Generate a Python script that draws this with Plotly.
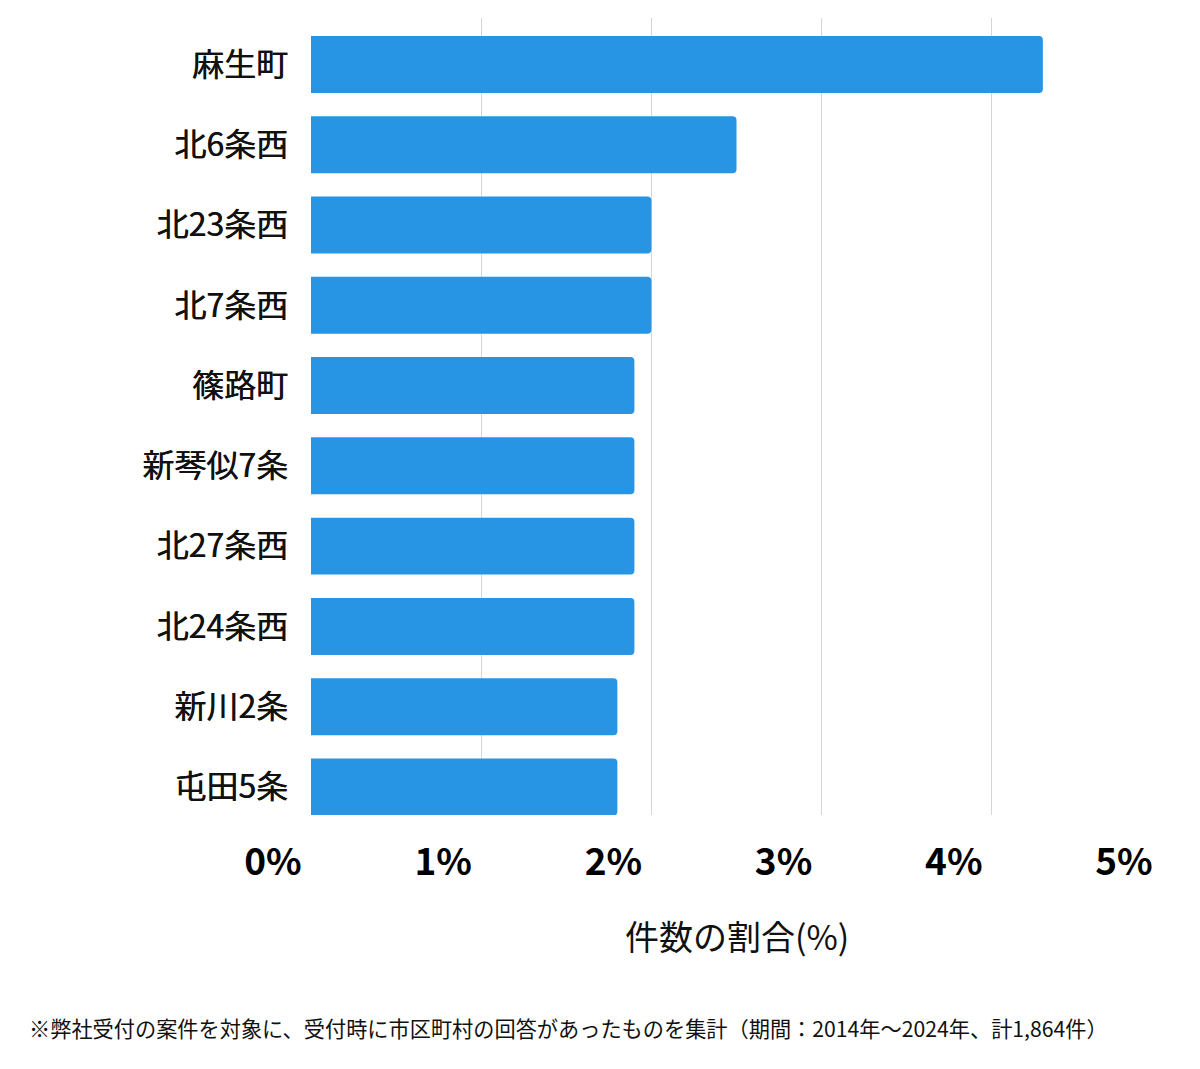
import plotly.graph_objects as go

categories = ["麻生町", "北6条西", "北23条西", "北7条西", "篠路町",
              "新琴似7条", "北27条西", "北24条西", "新川2条", "屯田5条"]
values = [4.30, 2.50, 2.00, 2.00, 1.90, 1.90, 1.90, 1.90, 1.80, 1.80]
tick_vals = [0, 1, 2, 3, 4, 5]
tick_text = ["0%", "1%", "2%", "3%", "4%", "5%"]
axis_title = "件数の割合(%)"
footnote = "※弊社受付の案件を対象に、受付時に市区町村の回答があったものを集計（期間：2014年～2024年、計1,864件）"

FONT = "Noto Sans CJK JP"
W, H = 1200, 1069
L, R, T, B = 311, 38, 18, 254
pw = W - L - R
ph = H - T - B

fig = go.Figure(go.Bar(
    x=values, y=categories, orientation="h",
    marker=dict(color="#2795e3", line=dict(width=0)),
    hoverinfo="x+y",
))

fig.update_layout(
    width=W, height=H,
    margin=dict(l=L, r=R, t=T, b=B),
    paper_bgcolor="white", plot_bgcolor="white",
    bargap=0.29,
    barcornerradius=4,
    showlegend=False,
    font=dict(family=FONT, color="#111111"),
    xaxis=dict(
        range=[0, 5], tickvals=tick_vals, ticktext=tick_text,
        showgrid=True, gridcolor="#d6d6d6", gridwidth=1,
        zeroline=False, showline=False, ticks="",
        tickfont=dict(family=FONT, size=37, color="#000000", weight="bold"),
        ticklabelshift=-38, ticklabelstandoff=22,
        fixedrange=True,
    ),
    yaxis=dict(
        range=[9.35, -0.58], showgrid=False, zeroline=False,
        showline=False, ticks="",
        tickfont=dict(family=FONT, size=32, color="#111111",
                      shadow="0.6px 0px 0px #111111"),
        ticklabelstandoff=22,
        fixedrange=True,
    ),
    annotations=[
        dict(text=axis_title, xref="paper", yref="paper", x=0.5, y=0,
             xanchor="center", yanchor="middle", yshift=-(935 - (H - B)),
             showarrow=False, font=dict(family=FONT, size=34, color="#111111")),
        dict(text=footnote, xref="paper", yref="paper",
             x=(27 - L) / pw, y=0, xanchor="left", yanchor="middle",
             yshift=-(1027 - (H - B)), showarrow=False,
             font=dict(family=FONT, size=21.2, color="#111111")),
    ],
)

fig.write_html("out.html")
